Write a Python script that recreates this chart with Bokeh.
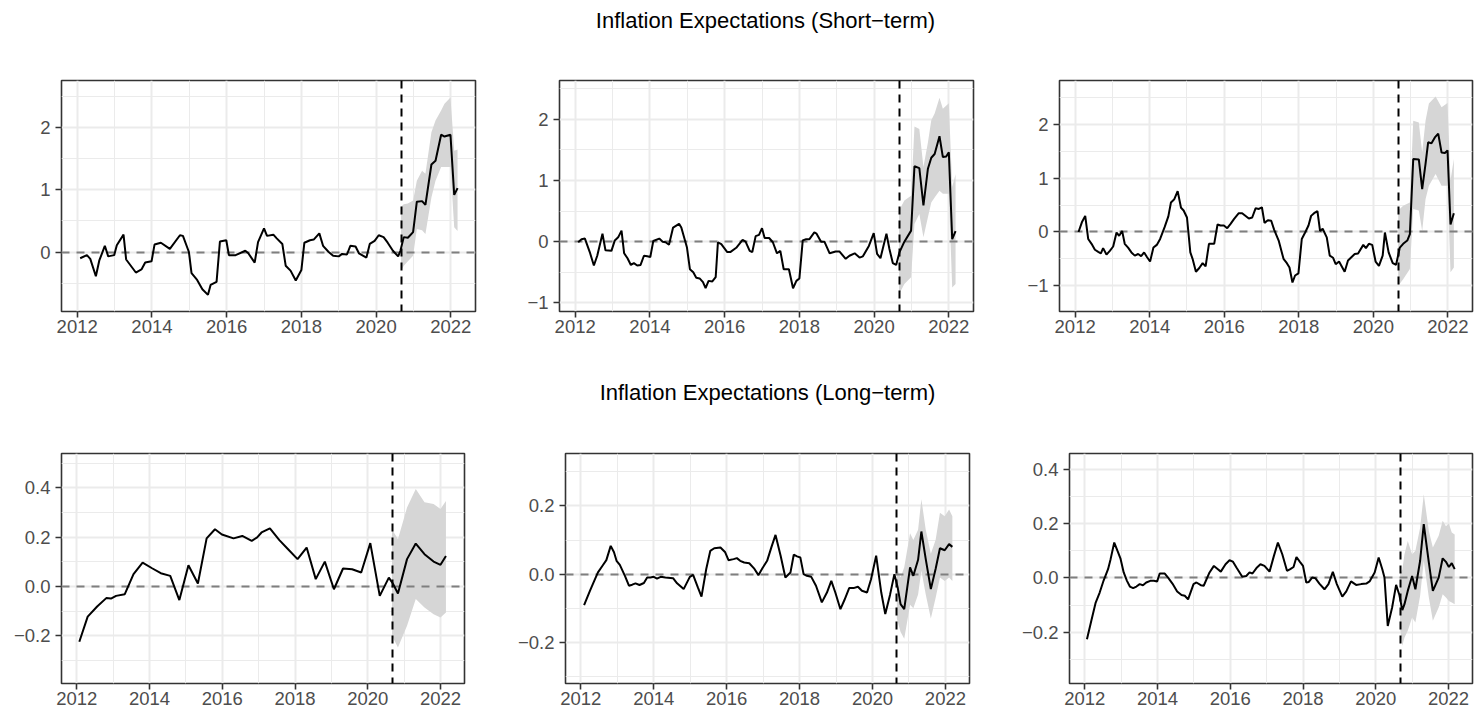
from bokeh.plotting import figure
from bokeh.models import FixedTicker, Range1d
from bokeh.layouts import row, column
from bokeh.core.properties import value
from bokeh.embed import file_html
from bokeh.resources import INLINE

FONT = "Liberation Sans"
TITLE_SHORT = "Inflation Expectations (Short\u2212term)"
TITLE_LONG = "Inflation Expectations (Long\u2212term)"

X_RANGE = (2011.58, 2022.66)
X_TICKS = [2012, 2014, 2016, 2018, 2020, 2022]
X_MINOR = [2013, 2015, 2017, 2019, 2021]
X_LABELS = ["2012", "2014", "2016", "2018", "2020", "2022"]
BREAK_X = 2020.667

# ---------------- Short-term, panel A ----------------
sa_x = [2012.08, 2012.26, 2012.35, 2012.50, 2012.59, 2012.74, 2012.83, 2012.99, 2013.06, 2013.24,
        2013.31, 2013.57, 2013.72, 2013.82, 2013.99, 2014.07, 2014.24, 2014.48, 2014.75, 2014.83,
        2014.99, 2015.06, 2015.21, 2015.35, 2015.50, 2015.57, 2015.73, 2015.82, 2015.99, 2016.06,
        2016.24, 2016.50, 2016.58, 2016.75, 2016.84, 2017.00, 2017.08, 2017.25, 2017.34, 2017.49,
        2017.58, 2017.71, 2017.85, 2018.00, 2018.08, 2018.23, 2018.33, 2018.48, 2018.58, 2018.73,
        2018.85, 2019.00, 2019.09, 2019.22, 2019.31, 2019.45, 2019.54, 2019.74, 2019.83, 2019.96,
        2020.07, 2020.20, 2020.31, 2020.45, 2020.59, 2020.65, 2020.74, 2020.85, 2020.99, 2021.09,
        2021.23, 2021.32, 2021.48, 2021.59, 2021.74, 2021.83, 2021.99, 2022.09, 2022.18]
sa_y = [-0.10, -0.05, -0.11, -0.39, -0.14, 0.10, -0.07, -0.05, 0.11, 0.28,
        -0.12, -0.33, -0.28, -0.17, -0.15, 0.12, 0.15, 0.05, 0.27, 0.26,
        0.00, -0.34, -0.45, -0.60, -0.69, -0.53, -0.48, 0.17, 0.19, -0.05,
        -0.05, 0.02, -0.02, -0.17, 0.16, 0.38, 0.26, 0.28, 0.22, 0.13,
        -0.22, -0.30, -0.46, -0.29, 0.15, 0.19, 0.20, 0.30, 0.10, 0.00,
        -0.06, -0.07, -0.03, -0.04, 0.10, 0.09, -0.02, -0.09, 0.13, 0.18,
        0.27, 0.24, 0.15, 0.02, -0.07, 0.02, 0.24, 0.23, 0.32, 0.81,
        0.82, 0.76, 1.41, 1.47, 1.89, 1.86, 1.89, 0.92, 1.03]
sa_band_x = [2020.667, 2020.74, 2020.85, 2020.99, 2021.09, 2021.23, 2021.32, 2021.48, 2021.59,
             2021.74, 2021.83, 2021.99, 2022.09, 2022.18]
sa_lo = [-0.30, -0.22, -0.15, -0.06, 0.37, 0.35, 0.29, 0.88, 1.15, 1.37, 1.37, 1.37, 0.40, 0.34]
sa_hi = [0.73, 0.77, 0.78, 0.83, 1.15, 1.31, 1.26, 1.93, 2.12, 2.28, 2.39, 2.49, 1.63, 1.65]

# ---------------- Short-term, panel B ----------------
sb_x = [2012.08, 2012.17, 2012.26, 2012.39, 2012.50, 2012.59, 2012.73, 2012.81, 2012.97, 2013.06,
        2013.15, 2013.24, 2013.31, 2013.40, 2013.49, 2013.57, 2013.66, 2013.75, 2013.84, 2013.93,
        2014.01, 2014.09, 2014.25, 2014.34, 2014.42, 2014.51, 2014.62, 2014.78, 2014.84, 2014.99,
        2015.07, 2015.16, 2015.24, 2015.33, 2015.42, 2015.49, 2015.57, 2015.67, 2015.76, 2015.82,
        2015.91, 2016.07, 2016.15, 2016.31, 2016.48, 2016.56, 2016.67, 2016.74, 2016.83, 2016.92,
        2017.00, 2017.07, 2017.19, 2017.29, 2017.40, 2017.49, 2017.58, 2017.72, 2017.83, 2017.92,
        2018.00, 2018.09, 2018.18, 2018.27, 2018.40, 2018.46, 2018.58, 2018.67, 2018.81, 2018.97,
        2019.07, 2019.24, 2019.34, 2019.48, 2019.61, 2019.70, 2019.86, 2019.99, 2020.08, 2020.17,
        2020.33, 2020.41, 2020.50, 2020.59, 2020.68, 2020.81, 2020.99, 2021.08, 2021.21, 2021.32,
        2021.44, 2021.53, 2021.62, 2021.75, 2021.84, 2021.93, 2022.00, 2022.09, 2022.18]
sb_y = [-0.01, 0.04, 0.05, -0.17, -0.39, -0.23, 0.13, -0.14, -0.15, 0.02,
        0.07, 0.18, -0.19, -0.27, -0.38, -0.35, -0.39, -0.38, -0.23, -0.24,
        -0.25, 0.01, 0.05, 0.00, -0.01, -0.05, 0.23, 0.29, 0.23, -0.09,
        -0.45, -0.50, -0.59, -0.60, -0.66, -0.76, -0.64, -0.65, -0.58, -0.01,
        -0.04, -0.17, -0.17, -0.10, 0.03, 0.00, -0.15, -0.17, 0.09, 0.11,
        0.22, 0.06, 0.06, -0.01, -0.19, -0.15, -0.45, -0.45, -0.76, -0.64,
        -0.60, 0.02, 0.04, 0.04, 0.15, 0.13, 0.00, 0.00, -0.19, -0.16,
        -0.16, -0.28, -0.23, -0.19, -0.26, -0.24, -0.07, 0.14, -0.20, -0.27,
        0.13, -0.12, -0.35, -0.38, -0.17, 0.00, 0.18, 1.23, 1.20, 0.59,
        1.19, 1.37, 1.43, 1.72, 1.38, 1.39, 1.46, 0.04, 0.17]
sb_band_x = [2020.667, 2020.81, 2020.99, 2021.08, 2021.21, 2021.32, 2021.44, 2021.53, 2021.62,
             2021.75, 2021.84, 2022.00, 2022.09, 2022.18]
sb_lo = [-0.86, -0.69, -0.58, 0.29, 0.45, 0.07, 0.40, 0.64, 0.72, 0.83, 0.78, 0.78, -0.75, -0.69]
sb_hi = [0.51, 0.67, 0.75, 1.88, 1.84, 1.22, 1.62, 1.98, 2.09, 2.35, 2.17, 2.26, 0.89, 1.10]

# ---------------- Short-term, panel C ----------------
sc_x = [2012.09, 2012.18, 2012.27, 2012.35, 2012.44, 2012.53, 2012.62, 2012.69, 2012.75, 2012.84,
        2012.93, 2013.02, 2013.11, 2013.18, 2013.26, 2013.33, 2013.42, 2013.51, 2013.60, 2013.69,
        2013.77, 2013.85, 2013.93, 2014.01, 2014.10, 2014.19, 2014.28, 2014.40, 2014.50, 2014.57,
        2014.66, 2014.75, 2014.84, 2014.91, 2015.00, 2015.09, 2015.15, 2015.24, 2015.33, 2015.42,
        2015.50, 2015.59, 2015.73, 2015.82, 2015.90, 2015.99, 2016.08, 2016.17, 2016.26, 2016.39,
        2016.48, 2016.66, 2016.75, 2016.84, 2016.93, 2017.01, 2017.08, 2017.17, 2017.26, 2017.34,
        2017.46, 2017.59, 2017.68, 2017.75, 2017.83, 2017.90, 2017.99, 2018.08, 2018.17, 2018.26,
        2018.33, 2018.41, 2018.50, 2018.57, 2018.64, 2018.75, 2018.83, 2018.92, 2018.99, 2019.08,
        2019.23, 2019.32, 2019.41, 2019.50, 2019.59, 2019.73, 2019.80, 2019.88, 2019.97, 2020.06,
        2020.15, 2020.25, 2020.31, 2020.41, 2020.52, 2020.61, 2020.71, 2020.80, 2020.91, 2020.98,
        2021.07, 2021.22, 2021.31, 2021.40, 2021.47, 2021.56, 2021.65, 2021.74, 2021.83, 2021.92,
        2021.99, 2022.07, 2022.16]
sc_y = [0.00, 0.18, 0.30, -0.13, -0.22, -0.33, -0.37, -0.40, -0.30, -0.42,
        -0.35, -0.27, -0.01, -0.07, 0.02, -0.22, -0.29, -0.38, -0.44, -0.41,
        -0.45, -0.38, -0.47, -0.55, -0.29, -0.24, -0.13, 0.09, 0.29, 0.55,
        0.61, 0.76, 0.45, 0.40, 0.27, -0.38, -0.50, -0.74, -0.67, -0.58,
        -0.64, -0.22, -0.22, 0.14, 0.12, 0.12, 0.07, 0.15, 0.24, 0.35,
        0.35, 0.25, 0.27, 0.44, 0.43, 0.46, 0.17, 0.22, 0.21, 0.04,
        -0.16, -0.50, -0.58, -0.66, -0.94, -0.81, -0.77, -0.13, -0.01, 0.12,
        0.30, 0.35, 0.39, 0.02, 0.06, -0.10, -0.44, -0.48, -0.60, -0.55,
        -0.74, -0.53, -0.47, -0.41, -0.40, -0.24, -0.30, -0.22, -0.24, -0.55,
        -0.63, -0.44, -0.01, -0.38, -0.58, -0.61, -0.29, -0.22, -0.16, -0.04,
        1.36, 1.35, 0.80, 1.27, 1.67, 1.65, 1.76, 1.83, 1.48, 1.47,
        1.52, 0.14, 0.35]
sc_band_x = [2020.667, 2020.80, 2020.98, 2021.07, 2021.22, 2021.31, 2021.40, 2021.49, 2021.67,
             2021.83, 2021.99, 2022.07, 2022.16]
sc_lo = [-1.00, -0.88, -0.69, 0.43, 0.40, 0.02, 0.61, 0.86, 1.08, 0.86, 0.86, -0.75, -0.66]
sc_hi = [0.40, 0.49, 0.55, 2.07, 2.04, 1.48, 2.07, 2.39, 2.52, 2.32, 2.40, 0.96, 1.36]

# ---------------- Long-term, panel A ----------------
la_x = [2012.07, 2012.30, 2012.56, 2012.81, 2012.94, 2013.08, 2013.32, 2013.56, 2013.81, 2014.07,
        2014.31, 2014.57, 2014.82, 2015.07, 2015.33, 2015.57, 2015.80, 2015.99, 2016.31, 2016.55,
        2016.81, 2016.96, 2017.08, 2017.31, 2017.57, 2017.81, 2018.07, 2018.32, 2018.57, 2018.82,
        2019.07, 2019.32, 2019.57, 2019.82, 2020.07, 2020.33, 2020.58, 2020.69, 2020.83, 2021.08,
        2021.32, 2021.56, 2021.81, 2022.00, 2022.15]
la_y = [-0.224, -0.122, -0.081, -0.047, -0.049, -0.038, -0.031, 0.050, 0.097, 0.074,
        0.054, 0.043, -0.055, 0.086, 0.012, 0.195, 0.232, 0.211, 0.195, 0.205,
        0.185, 0.199, 0.219, 0.236, 0.188, 0.151, 0.111, 0.158, 0.030, 0.101,
        -0.011, 0.073, 0.070, 0.057, 0.176, -0.038, 0.036, 0.012, -0.028, 0.111,
        0.174, 0.131, 0.101, 0.088, 0.124]
la_band_x = [2020.667, 2020.83, 2021.08, 2021.32, 2021.56, 2021.81, 2022.00, 2022.15]
la_lo = [-0.200, -0.247, -0.159, -0.051, -0.085, -0.112, -0.126, -0.105]
la_hi = [0.232, 0.192, 0.320, 0.395, 0.341, 0.334, 0.314, 0.347]

# ---------------- Long-term, panel B ----------------
lb_x = [2012.09, 2012.25, 2012.35, 2012.47, 2012.59, 2012.70, 2012.82, 2012.91, 2012.98, 2013.07,
        2013.21, 2013.32, 2013.41, 2013.50, 2013.61, 2013.73, 2013.82, 2013.91, 2014.00, 2014.09,
        2014.19, 2014.32, 2014.53, 2014.64, 2014.82, 2014.99, 2015.08, 2015.21, 2015.31, 2015.44,
        2015.55, 2015.66, 2015.83, 2015.96, 2016.05, 2016.19, 2016.28, 2016.37, 2016.48, 2016.62,
        2016.75, 2016.87, 2016.98, 2017.11, 2017.23, 2017.34, 2017.48, 2017.61, 2017.75, 2017.84,
        2017.93, 2018.02, 2018.11, 2018.20, 2018.32, 2018.45, 2018.61, 2018.75, 2018.87, 2018.98,
        2019.12, 2019.23, 2019.36, 2019.48, 2019.60, 2019.71, 2019.85, 2019.96, 2020.10, 2020.24,
        2020.35, 2020.48, 2020.60, 2020.69, 2020.77, 2020.87, 2021.03, 2021.12, 2021.25, 2021.34,
        2021.46, 2021.60, 2021.73, 2021.85, 2021.98, 2022.10, 2022.19]
lb_y = [-0.091, -0.049, -0.024, 0.005, 0.024, 0.041, 0.083, 0.064, 0.039, 0.027,
        -0.005, -0.034, -0.031, -0.027, -0.032, -0.026, -0.010, -0.010, -0.008, -0.013,
        -0.008, -0.010, -0.012, -0.027, -0.044, -0.008, -0.002, -0.039, -0.066, 0.015,
        0.068, 0.076, 0.078, 0.064, 0.041, 0.044, 0.047, 0.039, 0.034, 0.032,
        0.017, -0.003, 0.017, 0.039, 0.080, 0.115, 0.054, -0.010, 0.005, 0.057,
        0.052, 0.049, 0.000, -0.005, -0.008, -0.034, -0.083, -0.054, -0.020, -0.054,
        -0.103, -0.076, -0.041, -0.041, -0.037, -0.049, -0.054, -0.015, 0.054, -0.054,
        -0.117, -0.061, 0.000, -0.039, -0.088, -0.103, 0.020, -0.005, 0.042, 0.125,
        0.044, -0.044, 0.015, 0.076, 0.070, 0.088, 0.080]
lb_band_x = [2020.667, 2020.77, 2020.87, 2021.03, 2021.12, 2021.25, 2021.34, 2021.46, 2021.60,
             2021.73, 2021.85, 2021.98, 2022.10, 2022.19]
lb_lo = [-0.13, -0.17, -0.19, -0.09, -0.10, -0.06, 0.01, -0.06, -0.13, -0.07, -0.01, -0.02, -0.01, -0.02]
lb_hi = [0.02, -0.01, 0.02, 0.12, 0.10, 0.13, 0.22, 0.13, 0.06, 0.10, 0.18, 0.17, 0.19, 0.17]

# ---------------- Long-term, panel C ----------------
lc_x = [2012.06, 2012.18, 2012.30, 2012.41, 2012.52, 2012.64, 2012.71, 2012.81, 2012.90, 2012.98,
        2013.07, 2013.16, 2013.24, 2013.33, 2013.42, 2013.51, 2013.60, 2013.69, 2013.80, 2013.90,
        2013.99, 2014.06, 2014.20, 2014.29, 2014.41, 2014.54, 2014.66, 2014.75, 2014.84, 2014.99,
        2015.07, 2015.19, 2015.27, 2015.43, 2015.55, 2015.66, 2015.74, 2015.87, 2015.98, 2016.07,
        2016.17, 2016.33, 2016.44, 2016.53, 2016.61, 2016.72, 2016.83, 2016.94, 2017.08, 2017.20,
        2017.31, 2017.43, 2017.56, 2017.65, 2017.74, 2017.82, 2017.91, 2018.00, 2018.09, 2018.16,
        2018.25, 2018.34, 2018.45, 2018.59, 2018.70, 2018.82, 2018.93, 2019.08, 2019.19, 2019.32,
        2019.46, 2019.60, 2019.74, 2019.83, 2019.97, 2020.08, 2020.18, 2020.24, 2020.33, 2020.45,
        2020.56, 2020.65, 2020.73, 2020.79, 2020.88, 2021.00, 2021.09, 2021.22, 2021.32, 2021.46,
        2021.57, 2021.73, 2021.84, 2021.93, 2022.01, 2022.09, 2022.17]
lc_y = [-0.226, -0.158, -0.091, -0.054, -0.009, 0.032, 0.069, 0.130, 0.099, 0.072,
        0.020, -0.011, -0.032, -0.038, -0.032, -0.023, -0.027, -0.017, -0.011, -0.011,
        -0.013, 0.016, 0.016, 0.001, -0.021, -0.050, -0.063, -0.066, -0.079, -0.023,
        -0.017, -0.027, -0.029, 0.020, 0.044, 0.032, 0.023, 0.050, 0.065, 0.060,
        0.038, 0.004, 0.007, 0.020, 0.016, 0.036, 0.050, 0.044, 0.023, 0.081,
        0.130, 0.087, 0.026, 0.032, 0.040, 0.077, 0.060, 0.044, -0.017, -0.015,
        0.001, -0.001, -0.021, -0.042, -0.023, 0.022, -0.023, -0.069, -0.050, -0.013,
        -0.026, -0.023, -0.021, -0.013, 0.020, 0.075, 0.032, 0.001, -0.177, -0.109,
        -0.026, -0.063, -0.119, -0.097, -0.048, 0.007, -0.042, 0.063, 0.198, 0.056,
        -0.048, 0.001, 0.072, 0.059, 0.040, 0.054, 0.032]
lc_band_x = [2020.667, 2020.73, 2020.79, 2020.88, 2021.00, 2021.09, 2021.22, 2021.32, 2021.46,
             2021.57, 2021.73, 2021.84, 2021.93, 2022.01, 2022.09, 2022.17]
lc_lo = [-0.183, -0.25, -0.22, -0.195, -0.146, -0.164, -0.066, 0.063, -0.072, -0.158, -0.109,
         -0.06, -0.072, -0.085, -0.091, -0.097]
lc_hi = [0.013, 0.03, 0.087, 0.136, 0.087, 0.10, 0.185, 0.308, 0.173, 0.112, 0.155, 0.21,
         0.19, 0.20, 0.167, 0.16]

# ---------------- y axes ----------------
sa_yrange = (-0.958, 2.763)
sb_yrange = (-1.14, 2.63)
sc_yrange = (-1.48, 2.82)
la_yrange = (-0.393, 0.539)
lb_yrange = (-0.321, 0.354)
lc_yrange = (-0.389, 0.458)

sa_yticks, sa_ylabels, sa_yminor = [0, 1, 2], ["0", "1", "2"], [-0.5, 0.5, 1.5, 2.5]
sb_yticks, sb_ylabels, sb_yminor = [-1, 0, 1, 2], ["\u22121", "0", "1", "2"], [-0.5, 0.5, 1.5, 2.5]
sc_yticks, sc_ylabels, sc_yminor = [-1, 0, 1, 2], ["\u22121", "0", "1", "2"], [-0.5, 0.5, 1.5, 2.5]
la_yticks, la_ylabels, la_yminor = [-0.2, 0.0, 0.2, 0.4], ["\u22120.2", "0.0", "0.2", "0.4"], [-0.3, -0.1, 0.1, 0.3, 0.5]
lb_yticks, lb_ylabels, lb_yminor = [-0.2, 0.0, 0.2], ["\u22120.2", "0.0", "0.2"], [-0.3, -0.1, 0.1, 0.3]
lc_yticks, lc_ylabels, lc_yminor = [-0.2, 0.0, 0.2, 0.4], ["\u22120.2", "0.0", "0.2", "0.4"], [-0.3, -0.1, 0.1, 0.3]

TOTAL_W = 1475


def make_panel(x, y, bx, lo, hi, yrange, yticks, ylabels, yminor,
               width, height, bl, br, bt, bb):
    p = figure(width=width, height=height,
               x_range=Range1d(*X_RANGE), y_range=Range1d(*yrange),
               output_backend="svg", toolbar_location=None,
               min_border_left=bl, min_border_right=br,
               min_border_top=bt, min_border_bottom=bb)
    p.background_fill_color = "white"
    p.border_fill_color = "white"
    p.outline_line_color = "#333333"
    p.outline_line_width = 1.6

    xa = p.xaxis[0]
    ya = p.yaxis[0]
    xa.ticker = FixedTicker(ticks=X_TICKS, minor_ticks=X_MINOR)
    xa.major_label_overrides = {t: l for t, l in zip(X_TICKS, X_LABELS)}
    ya.ticker = FixedTicker(ticks=yticks, minor_ticks=yminor)
    ya.major_label_overrides = {t: l for t, l in zip(yticks, ylabels)}
    for ax in (xa, ya):
        ax.axis_line_color = None
        ax.major_tick_line_color = "#333333"
        ax.major_tick_line_width = 1.6
        ax.major_tick_out = 6
        ax.major_tick_in = 0
        ax.minor_tick_line_color = None
        ax.major_label_text_font = FONT
        ax.major_label_text_font_size = "18.5px"
        ax.major_label_text_color = "#4D4D4D"
    xa.major_label_standoff = 2
    ya.major_label_standoff = 5

    for g in (p.xgrid[0], p.ygrid[0]):
        g.grid_line_color = "#EBEBEB"
        g.grid_line_width = 2
        g.minor_grid_line_color = "#EBEBEB"
        g.minor_grid_line_width = 1

    p.varea(x=bx, y1=lo, y2=hi, fill_color="#D6D6D6")
    p.hspan(y=[0], line_color="#7F7F7F", line_width=2, line_dash="8 7")
    p.vspan(x=[BREAK_X], line_color="black", line_width=2, line_dash="8 6")
    p.line(x, y, line_color="black", line_width=2)
    return p


def make_title(text, height, center_x, center_y):
    t = figure(width=TOTAL_W, height=height,
               x_range=Range1d(0, TOTAL_W), y_range=Range1d(height, 0),
               output_backend="svg", toolbar_location=None,
               x_axis_location=None, y_axis_location=None,
               min_border=0)
    t.outline_line_color = None
    t.grid.visible = False
    t.background_fill_color = "white"
    t.border_fill_color = "white"
    t.text(x=[center_x], y=[center_y], text=[text],
           text_font=value(FONT), text_font_size=value("22px"),
           text_color="black", text_align="center", text_baseline="middle")
    return t


# layout (pixels): title 40, row1 321, title 62, row2 290 -> 713
T1_H = 40
H1, BT1, BB1 = 321, 40, 50
T2_H = 62
H2, BT2, BB2 = 290, 30, 30

f1 = make_panel(sa_x, sa_y, sa_band_x, sa_lo, sa_hi, sa_yrange, sa_yticks, sa_ylabels, sa_yminor,
                510, H1, 61, 35, BT1, BB1)
f2 = make_panel(sb_x, sb_y, sb_band_x, sb_lo, sb_hi, sb_yrange, sb_yticks, sb_ylabels, sb_yminor,
                500, H1, 49, 37, BT1, BB1)
f3 = make_panel(sc_x, sc_y, sc_band_x, sc_lo, sc_hi, sc_yrange, sc_yticks, sc_ylabels, sc_yminor,
                465, H1, 49, 3, BT1, BB1)
f4 = make_panel(la_x, la_y, la_band_x, la_lo, la_hi, la_yrange, la_yticks, la_ylabels, la_yminor,
                510, H2, 61, 46, BT2, BB2)
f5 = make_panel(lb_x, lb_y, lb_band_x, lb_lo, lb_hi, lb_yrange, lb_yticks, lb_ylabels, lb_yminor,
                500, H2, 55, 41, BT2, BB2)
f6 = make_panel(lc_x, lc_y, lc_band_x, lc_lo, lc_hi, lc_yrange, lc_yticks, lc_ylabels, lc_yminor,
                465, H2, 59, 3, BT2, BB2)

t1 = make_title(TITLE_SHORT, T1_H, 765, 20)
t2 = make_title(TITLE_LONG, T2_H, 767, 31)

layout = column(t1, row(f1, f2, f3), t2, row(f4, f5, f6))
open("out.html", "w").write(file_html(layout, INLINE))
